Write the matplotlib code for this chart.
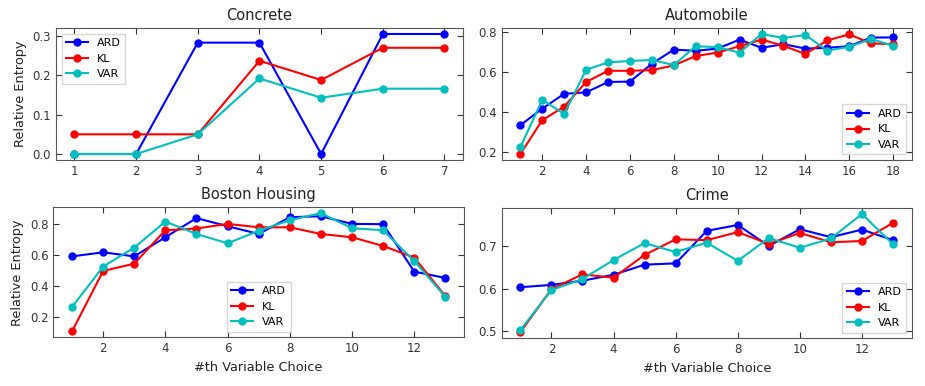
import matplotlib
matplotlib.use('Agg')
import matplotlib.pyplot as plt

methods = ['ARD', 'KL', 'VAR']
colors = ['b', 'r', 'c']

# Concrete
concrete_x = [1, 2, 3, 4, 5, 6, 7]
concrete_ard = [0.0, 0.0, 0.283, 0.283, 0.0, 0.305, 0.305]
concrete_kl = [0.05, 0.05, 0.05, 0.237, 0.188, 0.27, 0.27]
concrete_var = [0.0, 0.0, 0.05, 0.192, 0.143, 0.166, 0.166]

# Automobile
auto_x = list(range(1, 19))
auto_ard = [0.332, 0.415, 0.489, 0.496, 0.548, 0.55, 0.639, 0.71, 0.704, 0.715,
            0.76, 0.719, 0.737, 0.715, 0.719, 0.727, 0.77, 0.771]
auto_kl = [0.188, 0.357, 0.425, 0.548, 0.604, 0.604, 0.607, 0.631, 0.678, 0.695,
           0.727, 0.76, 0.729, 0.688, 0.756, 0.786, 0.741, 0.737]
auto_var = [0.222, 0.459, 0.388, 0.609, 0.646, 0.653, 0.658, 0.633, 0.727, 0.722,
            0.695, 0.788, 0.768, 0.783, 0.705, 0.724, 0.763, 0.729]

# Boston Housing
boston_x = list(range(1, 14))
boston_ard = [0.591, 0.617, 0.591, 0.714, 0.837, 0.785, 0.735, 0.843, 0.849, 0.8,
              0.798, 0.493, 0.452]
boston_kl = [0.108, 0.497, 0.544, 0.759, 0.77, 0.8, 0.778, 0.778, 0.735, 0.714,
             0.658, 0.583, 0.336]
boston_var = [0.265, 0.525, 0.647, 0.815, 0.735, 0.675, 0.755, 0.824, 0.869, 0.772,
              0.759, 0.561, 0.331]

# Crime
crime_x = list(range(1, 14))
crime_ard = [0.6035, 0.609, 0.619, 0.633, 0.657, 0.66, 0.737, 0.751, 0.701, 0.741,
             0.722, 0.74, 0.715]
crime_kl = [0.497, 0.599, 0.634, 0.626, 0.68, 0.717, 0.715, 0.734, 0.706, 0.732,
            0.71, 0.713, 0.756]
crime_var = [0.502, 0.597, 0.623, 0.668, 0.708, 0.687, 0.709, 0.666, 0.72, 0.697,
             0.719, 0.777, 0.705]

panels = [
    ('Concrete', concrete_x, [concrete_ard, concrete_kl, concrete_var], 'upper left',
     [0.0605, 0.5855, 0.44, 0.342]),
    ('Automobile', auto_x, [auto_ard, auto_kl, auto_var], 'lower right',
     [0.5424, 0.5855, 0.4432, 0.342]),
    ('Boston Housing', boston_x, [boston_ard, boston_kl, boston_var], 'lower center',
     [0.0577, 0.1261, 0.4439, 0.337]),
    ('Crime', crime_x, [crime_ard, crime_kl, crime_var], 'lower right',
     [0.5424, 0.124, 0.4432, 0.337]),
]

fig, axes = plt.subplots(2, 2, figsize=(9.25, 3.86), dpi=100)

for ax, (title, x, series, loc, pos) in zip(axes.flat, panels):
    ax.set_position(pos)
    for name, y, c in zip(methods, series, colors):
        ax.plot(x, y, '-o', color=c, label=name, lw=1.5, ms=5)
    ax.set_title(title, fontsize=10.5, color='#222222')
    ax.tick_params(direction='in', top=True, right=True, labelsize=8.5,
                   colors='#333333', length=4)
    for sp in ax.spines.values():
        sp.set_color('#555555')
    ax.legend(loc=loc, fontsize=8, fancybox=False, edgecolor='#cccccc')

axes[0, 0].set_xticks(concrete_x)
axes[0, 0].set_yticks([0.0, 0.1, 0.2, 0.3])
axes[0, 1].set_xticks(range(2, 19, 2))
axes[0, 1].set_yticks([0.2, 0.4, 0.6, 0.8])
axes[1, 0].set_xticks(range(2, 13, 2))
axes[1, 0].set_yticks([0.2, 0.4, 0.6, 0.8])
axes[1, 1].set_xticks(range(2, 13, 2))
axes[1, 1].set_yticks([0.5, 0.6, 0.7])

axes[0, 0].set_ylabel('Relative Entropy', fontsize=9.3, color='#222222')
axes[1, 0].set_ylabel('Relative Entropy', fontsize=9.3, color='#222222')
axes[1, 0].set_xlabel('#th Variable Choice', fontsize=9.3, color='#222222')
axes[1, 1].set_xlabel('#th Variable Choice', fontsize=9.3, color='#222222')

plt.savefig('out.png', dpi=100)
